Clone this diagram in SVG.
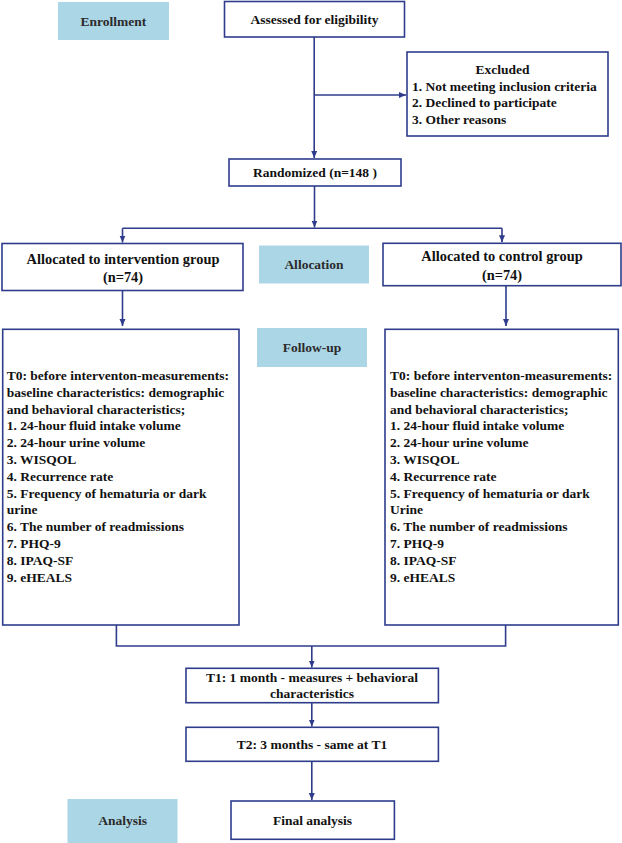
<svg xmlns="http://www.w3.org/2000/svg" width="622" height="843" viewBox="0 0 622 843">
<style>
.box{fill:#fff;stroke:#2f3c8c;stroke-width:1.6}
.lab{fill:#abd6e6;stroke:none}
.t{font-family:"Liberation Serif","Times New Roman",serif;font-weight:bold;font-size:13.5px;fill:#111}
.big{font-size:14.4px}
.lt{font-family:"Liberation Serif","Times New Roman",serif;font-weight:bold;font-size:13.5px;fill:#2b2b2b}
.c{text-anchor:middle}
.con{fill:none;stroke:#2f3c8c;stroke-width:1.6}
</style>
<defs>
<marker id="ah" markerWidth="8" markerHeight="8" refX="7" refY="4" orient="auto" markerUnits="userSpaceOnUse">
<path d="M0,1 L7,4 L0,7 Z" fill="#2f3c8c"/>
</marker>
</defs>
<g id="enrollment"><rect class="lab" x="58" y="2" width="111" height="38"/><text class="lt c" x="113.5" y="25.5">Enrollment</text></g>
<g id="assessed"><rect class="box" x="224.5" y="1.5" width="180" height="35.5"/><text class="t c" x="314.5" y="24">Assessed for eligibility</text></g>
<g id="excluded"><rect class="box" x="407" y="52" width="201" height="84"/>
<text class="t c" x="502.5" y="73.5">Excluded</text>
<text class="t" x="412" y="90.5">1. Not meeting inclusion criteria</text>
<text class="t" x="412" y="107">2. Declined to participate</text>
<text class="t" x="412" y="123.5">3. Other reasons</text></g>
<g id="randomized"><rect class="box" x="229" y="159" width="172" height="27"/><text class="t c" x="315" y="177">Randomized (n=148 )</text></g>
<g id="alloc-int"><rect class="box" x="2" y="243.5" width="241" height="47"/><text class="t big c" x="123" y="264">Allocated to intervention group</text><text class="t big c" x="123" y="281.5">(n=74)</text></g>
<g id="allocation"><rect class="lab" x="259" y="245.5" width="110" height="38"/><text class="lt c" x="314" y="268.5">Allocation</text></g>
<g id="alloc-ctl"><rect class="box" x="383" y="243.3" width="238" height="42.4"/><text class="t big c" x="502" y="261">Allocated to control group</text><text class="t big c" x="502" y="279.5">(n=74)</text></g>
<g id="followup"><rect class="lab" x="257" y="328" width="110" height="39"/><text class="lt c" x="312" y="351.5">Follow-up</text></g>
<g id="t0-int"><rect class="box" x="2.7" y="329.3" width="236.3" height="295.7"/>
<text class="t" x="6.7" y="380">T0: before interventon-measurements:</text>
<text class="t" x="6.7" y="396.8">baseline characteristics: demographic</text>
<text class="t" x="6.7" y="413.6">and behavioral characteristics;</text>
<text class="t" x="6.7" y="430.4">1. 24-hour fluid intake volume</text>
<text class="t" x="6.7" y="447.2">2. 24-hour urine volume</text>
<text class="t" x="6.7" y="464">3. WISQOL</text>
<text class="t" x="6.7" y="480.8">4. Recurrence rate</text>
<text class="t" x="6.7" y="497.6">5. Frequency of hematuria or dark</text>
<text class="t" x="6.7" y="514.4">urine</text>
<text class="t" x="6.7" y="531.2">6. The number of readmissions</text>
<text class="t" x="6.7" y="548">7. PHQ-9</text>
<text class="t" x="6.7" y="564.8">8. IPAQ-SF</text>
<text class="t" x="6.7" y="581.6">9. eHEALS</text></g>
<g id="t0-ctl"><rect class="box" x="385" y="329.3" width="233.3" height="295.7"/>
<text class="t" x="390" y="380">T0: before interventon-measurements:</text>
<text class="t" x="390" y="396.8">baseline characteristics: demographic</text>
<text class="t" x="390" y="413.6">and behavioral characteristics;</text>
<text class="t" x="390" y="430.4">1. 24-hour fluid intake volume</text>
<text class="t" x="390" y="447.2">2. 24-hour urine volume</text>
<text class="t" x="390" y="464">3. WISQOL</text>
<text class="t" x="390" y="480.8">4. Recurrence rate</text>
<text class="t" x="390" y="497.6">5. Frequency of hematuria or dark</text>
<text class="t" x="390" y="514.4">Urine</text>
<text class="t" x="390" y="531.2">6. The number of readmissions</text>
<text class="t" x="390" y="548">7. PHQ-9</text>
<text class="t" x="390" y="564.8">8. IPAQ-SF</text>
<text class="t" x="390" y="581.6">9. eHEALS</text></g>
<g id="t1"><rect class="box" x="186" y="668.3" width="252.4" height="34.4"/><text class="t c" x="312" y="682">T1: 1 month - measures + behavioral</text><text class="t c" x="312" y="698">characteristics</text></g>
<g id="t2"><rect class="box" x="186" y="727.3" width="252.4" height="34"/><text class="t c" x="312" y="749">T2: 3 months - same at T1</text></g>
<g id="analysis"><rect class="lab" x="67.5" y="799" width="110" height="44"/><text class="lt c" x="122.7" y="824.5">Analysis</text></g>
<g id="final"><rect class="box" x="231" y="801" width="163.4" height="38.3"/><text class="t c" x="312.5" y="824.5">Final analysis</text></g>
<g id="connectors">
<path class="con" d="M314.2,37 V158" marker-end="url(#ah)"/>
<path class="con" d="M314.2,95 H406" marker-end="url(#ah)"/>
<path class="con" d="M314.5,186 V227.5" marker-end="url(#ah)"/>
<path class="con" d="M122.5,228.3 H502"/>
<path class="con" d="M122.5,228.3 V242.5" marker-end="url(#ah)"/>
<path class="con" d="M502,228.3 V242.3" marker-end="url(#ah)"/>
<path class="con" d="M122.5,290.7 V326" marker-end="url(#ah)"/>
<path class="con" d="M506,285.7 V326" marker-end="url(#ah)"/>
<path class="con" d="M116.4,625 V646 H505.6 V625"/>
<path class="con" d="M311.8,646 V667.5" marker-end="url(#ah)"/>
<path class="con" d="M311.8,702.7 V726.5" marker-end="url(#ah)"/>
<path class="con" d="M311.8,761.3 V800" marker-end="url(#ah)"/>
</g>
</svg>
